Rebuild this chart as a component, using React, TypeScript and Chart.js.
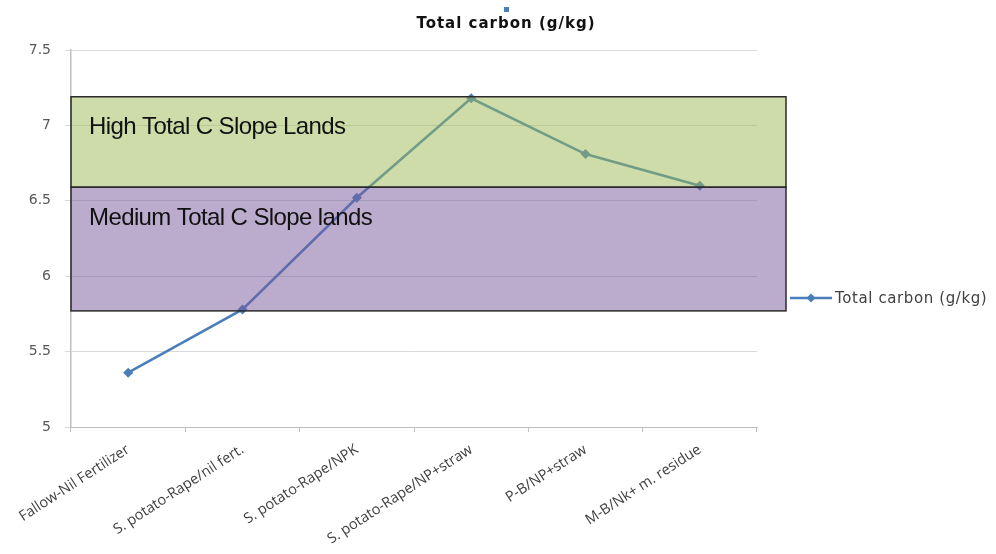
import React, { useEffect, useRef } from "react";
import { Chart, registerables } from "chart.js";

Chart.register(...registerables);

const categories = [
  "Fallow-Nil Fertilizer",
  "S. potato-Rape/nil fert.",
  "S. potato-Rape/NPK",
  "S. potato-Rape/NP+straw",
  "P-B/NP+straw",
  "M-B/Nk+ m. residue",
];
const totalCarbon = [5.36, 5.78, 6.52, 7.18, 6.81, 6.6];
const seriesName = "Total carbon (g/kg)";
const chartTitle = "Total carbon (g/kg)";

const bandLabels = ["High Total C Slope Lands", "Medium Total C Slope lands"];
const bandTop = [7.19, 6.59];
const bandBottom = [6.59, 5.77];
const bandFill = ["rgba(155,185,82,0.5)", "rgba(119,89,157,0.5)"];

const yMin = 5;
const yMax = 7.5;
const yStep = 0.5;

const LINE_COLOR = "#4A7EBB";

const overlayPlugin = {
  id: "overlay",
  afterDatasetsDraw(chart: any) {
    const { ctx, chartArea, scales } = chart;
    const y = scales.y;
    const left = chartArea.left;
    const right = chartArea.right + 29;
    ctx.save();
    for (let i = 0; i < bandLabels.length; i++) {
      const t = y.getPixelForValue(bandTop[i]);
      const b = y.getPixelForValue(bandBottom[i]);
      ctx.fillStyle = bandFill[i];
      ctx.fillRect(left, t, right - left, b - t);
    }
    ctx.strokeStyle = "#2b2b2b";
    ctx.lineWidth = 1.5;
    for (let i = 0; i < bandLabels.length; i++) {
      const t = y.getPixelForValue(bandTop[i]);
      const b = y.getPixelForValue(bandBottom[i]);
      ctx.strokeRect(left, t, right - left, b - t);
    }
    ctx.fillStyle = "#111";
    ctx.font = "24px 'Liberation Sans', Arial, sans-serif";
    (ctx as any).letterSpacing = "-0.6px";
    ctx.textBaseline = "middle";
    ctx.textAlign = "left";
    for (let i = 0; i < bandLabels.length; i++) {
      const t = y.getPixelForValue(bandTop[i]);
      ctx.fillText(bandLabels[i], left + 18, t + 31);
    }
    (ctx as any).letterSpacing = "0px";
    ctx.restore();
  },
  afterDraw(chart: any) {
    const { ctx, chartArea } = chart;
    ctx.save();
    // title
    ctx.fillStyle = LINE_COLOR;
    ctx.fillRect(504, 7, 5, 5);
    ctx.fillStyle = "#111";
    ctx.font = "bold 15px 'DejaVu Sans', Verdana, sans-serif";
    (ctx as any).letterSpacing = "1px";
    ctx.textAlign = "center";
    ctx.textBaseline = "middle";
    ctx.fillText(chartTitle, 506, 24);
    // legend
    const lx = chartArea.right + 33;
    const ly = 298;
    ctx.strokeStyle = LINE_COLOR;
    ctx.lineWidth = 2.5;
    ctx.beginPath();
    ctx.moveTo(lx, ly);
    ctx.lineTo(lx + 42, ly);
    ctx.stroke();
    ctx.fillStyle = LINE_COLOR;
    ctx.beginPath();
    const cx = lx + 21;
    const r = 4.5;
    ctx.moveTo(cx, ly - r);
    ctx.lineTo(cx + r, ly);
    ctx.lineTo(cx, ly + r);
    ctx.lineTo(cx - r, ly);
    ctx.closePath();
    ctx.fill();
    ctx.fillStyle = "#404040";
    ctx.font = "15px 'DejaVu Sans', Verdana, sans-serif";
    (ctx as any).letterSpacing = "0.6px";
    ctx.textAlign = "left";
    ctx.fillText(seriesName, lx + 45, ly + 1);
    (ctx as any).letterSpacing = "0px";
    ctx.restore();
  },
};

export default function App() {
  const ref = useRef<HTMLCanvasElement | null>(null);
  useEffect(() => {
    document.body.style.margin = "0";
    const canvas = ref.current;
    if (!canvas) return;
    const chart = new Chart(canvas, {
      type: "line",
      data: {
        labels: categories,
        datasets: [
          {
            label: seriesName,
            data: totalCarbon,
            borderColor: LINE_COLOR,
            backgroundColor: LINE_COLOR,
            borderWidth: 2.5,
            pointStyle: "rectRot",
            pointRadius: 5,
            pointBorderWidth: 0,
            tension: 0,
          },
        ],
      },
      options: {
        animation: false,
        responsive: false,
        maintainAspectRatio: false,
        layout: { padding: { top: 50, right: 239, left: 0, bottom: 0 } },
        plugins: {
          legend: { display: false },
          title: { display: false },
          tooltip: { enabled: false },
        },
        scales: {
          x: {
            offset: true,
            afterFit(scale: any) {
              scale.height = 127;
            },
            grid: {
              display: true,
              offset: true,
              drawOnChartArea: false,
              tickLength: 5,
              color: "#BFBFBF",
            },
            border: { color: "#BFBFBF", width: 1 },
            ticks: {
              autoSkip: false,
              minRotation: 33,
              maxRotation: 33,
              padding: 9,
              color: "#404040",
              font: { family: "'Open Sans', sans-serif", size: 14.5 },
            },
          },
          y: {
            min: yMin,
            max: yMax,
            afterFit(scale: any) {
              scale.width = 71;
            },
            grid: {
              color: "#D9D9D9",
              tickLength: 6,
              lineWidth: 1,
            },
            border: { color: "#BFBFBF", width: 1.5 },
            ticks: {
              stepSize: yStep,
              padding: 14,
              color: "#595959",
              callback: (v: any) => String(Number(v)),
              font: { family: "'DejaVu Sans', Verdana, sans-serif", size: 14 },
            },
          },
        },
      },
      plugins: [overlayPlugin],
    } as any);
    return () => chart.destroy();
  }, []);
  return (
    <div style={{ position: "absolute", left: 0, top: 0, width: 996, height: 554, background: "#fff" }}>
      <canvas ref={ref} width={996} height={554} style={{ width: 996, height: 554 }} />
    </div>
  );
}
